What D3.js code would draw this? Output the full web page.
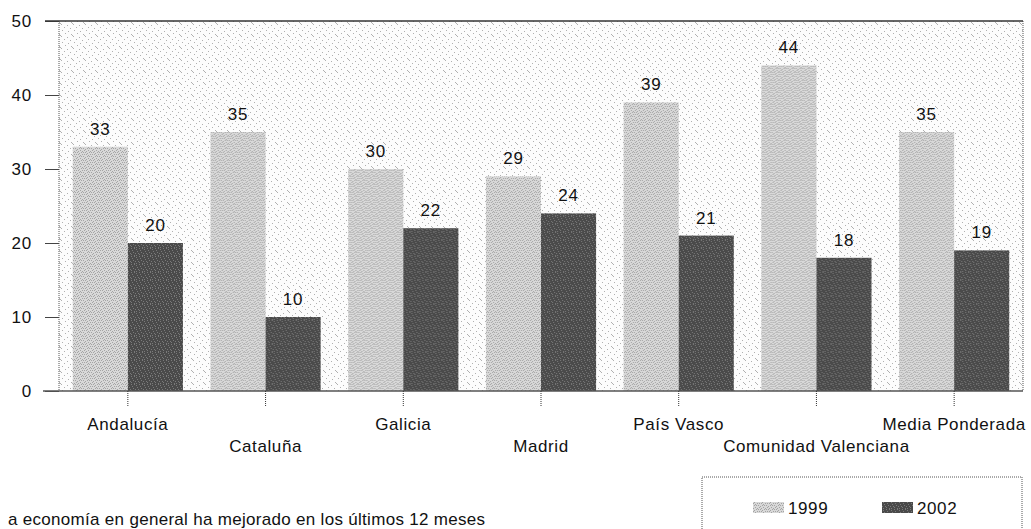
<!DOCTYPE html>
<html>
<head>
<meta charset="utf-8">
<script src="https://cdn.jsdelivr.net/npm/d3@7"></script>
<style>
  html, body { margin: 0; padding: 0; background: #fff; }
  svg { display: block; }
  text { font-family: "Liberation Sans", Arial, sans-serif; fill: #111; }
</style>
</head>
<body>
<svg id="chart" width="1031" height="529"></svg>
<script>
// Regions and survey shares (%) for each year
const categories = ["Andalucía", "Cataluña", "Galicia", "Madrid", "País Vasco", "Comunidad Valenciana", "Media Ponderada"];
const years = ["1999", "2002"];
const values1999 = [33, 35, 30, 29, 39, 44, 35];
const values2002 = [20, 10, 22, 24, 21, 18, 19];
const yTicks = [0, 10, 20, 30, 40, 50];
const footnote = "a economía en general ha mejorado en los últimos 12 meses";

const svg = d3.select("#chart");
const plot = { left: 59, right: 1023, top: 21, bottom: 391 };

const x0 = d3.scaleBand().domain(categories).range([plot.left, plot.right]).padding(0);
const x1 = d3.scaleBand().domain(years).range([0, x0.bandwidth()]).paddingInner(0).paddingOuter(0.25);
const y = d3.scaleLinear().domain([0, 50]).range([plot.bottom, plot.top]);

// Stippled textures for the plot background and the two series
const defs = svg.append("defs");
function stipple(id, size, base, dot, cells) {
  const p = defs.append("pattern").attr("id", id).attr("patternUnits", "userSpaceOnUse")
    .attr("width", size).attr("height", size);
  p.append("rect").attr("width", size).attr("height", size).attr("fill", base);
  cells.forEach(([cx, cy]) => p.append("rect").attr("x", cx).attr("y", cy)
    .attr("width", 1).attr("height", 1).attr("fill", dot));
}
stipple("bgTex", 12, "#fcfcfc", "#b0b0b0",
  [[1, 0], [7, 1], [4, 3], [10, 4], [2, 6], [8, 7], [5, 9], [11, 10], [0, 11]]);
stipple("lightTex", 8, "#d8d8d8", "#a4a4a4",
  [[0, 0], [2, 0], [4, 1], [6, 0], [1, 2], [3, 2], [5, 3], [7, 2], [0, 4], [2, 5], [4, 4], [6, 4], [1, 6], [3, 7], [5, 6], [7, 7]]);
stipple("darkTex", 8, "#4a4a4a", "#7a7a7a",
  [[0, 0], [3, 0], [5, 1], [1, 2], [6, 3], [2, 4], [4, 5], [7, 5], [0, 6], [3, 7], [5, 7]]);

// Plot area background
svg.append("rect")
  .attr("x", plot.left).attr("y", plot.top)
  .attr("width", plot.right - plot.left).attr("height", plot.bottom - plot.top)
  .attr("fill", "url(#bgTex)");

// Dotted left and right frame
[plot.left, plot.right].forEach(xx => svg.append("line")
  .attr("x1", xx).attr("x2", xx).attr("y1", plot.top).attr("y2", plot.bottom)
  .attr("stroke", "#555").attr("stroke-width", 1).attr("stroke-dasharray", "1,1"));

// Bars
const fills = { "1999": "url(#lightTex)", "2002": "url(#darkTex)" };
const seriesValues = { "1999": values1999, "2002": values2002 };
const groups = svg.append("g").selectAll("g").data(categories).join("g")
  .attr("transform", d => `translate(${x0(d)},0)`);
groups.selectAll("rect")
  .data((d, i) => years.map(yr => ({ yr, v: seriesValues[yr][i] })))
  .join("rect")
  .attr("x", d => x1(d.yr))
  .attr("y", d => y(d.v))
  .attr("width", x1.bandwidth())
  .attr("height", d => y(0) - y(d.v))
  .attr("fill", d => fills[d.yr]);

// Value labels
groups.selectAll("text.val")
  .data((d, i) => years.map(yr => ({ yr, v: seriesValues[yr][i] })))
  .join("text").attr("class", "val")
  .attr("x", d => x1(d.yr) + x1.bandwidth() / 2)
  .attr("y", d => y(d.v) - 12)
  .attr("text-anchor", "middle")
  .attr("font-size", 17)
  .attr("letter-spacing", 0.8)
  .text(d => d.v);

// Y axis: ticks and labels
const yAxis = d3.axisLeft(y).tickValues(yTicks).tickSize(14).tickPadding(13);
const gy = svg.append("g").attr("transform", `translate(${plot.left},0)`).call(yAxis);
gy.select(".domain").remove();
gy.selectAll(".tick line").attr("stroke", "#444");
gy.selectAll(".tick text").attr("font-size", 17).attr("letter-spacing", 0.8)
  .attr("font-family", "Liberation Sans, Arial, sans-serif").attr("fill", "#111");

// Top frame and zero baseline
svg.append("line").attr("x1", 45).attr("x2", plot.right).attr("y1", plot.top).attr("y2", plot.top)
  .attr("stroke", "#333").attr("stroke-width", 1.5);
svg.append("line").attr("x1", 43).attr("x2", plot.right).attr("y1", y(0)).attr("y2", y(0))
  .attr("stroke", "#555").attr("stroke-width", 1.5);

// X axis: dotted ticks at group centres, staggered labels
const xAxis = d3.axisBottom(x0).tickSize(15).tickPadding(0).tickFormat("");
const gx = svg.append("g").attr("transform", `translate(0,${y(0)})`).call(xAxis);
gx.select(".domain").remove();
gx.selectAll(".tick line").attr("stroke", "#333").attr("stroke-dasharray", "1,1");
gx.selectAll(".tick").append("text")
  .attr("y", (d, i) => i % 2 === 0 ? 39 : 61)
  .attr("text-anchor", "middle")
  .attr("font-size", 17)
  .attr("letter-spacing", 0.6)
  .attr("fill", "#111")
  .attr("font-family", "Liberation Sans, Arial, sans-serif")
  .text(d => d);

// Legend
const legend = svg.append("g").attr("transform", "translate(702,477)");
legend.append("rect").attr("x", 0).attr("y", 0).attr("width", 320).attr("height", 70)
  .attr("fill", "#fff").attr("stroke", "#555").attr("stroke-dasharray", "1,1");
const legendX = { "1999": [51, 86], "2002": [180, 215] };
years.forEach(yr => {
  legend.append("rect").attr("x", legendX[yr][0]).attr("y", 25).attr("width", 31).attr("height", 11)
    .attr("fill", fills[yr]);
  legend.append("text").attr("x", legendX[yr][1]).attr("y", 37)
    .attr("font-size", 17).attr("letter-spacing", 0.6).text(yr);
});

// Footnote along the bottom edge
svg.append("text").attr("x", 8).attr("y", 525).attr("font-size", 17).attr("letter-spacing", 0.3)
  .text(footnote);
</script>
</body>
</html>
